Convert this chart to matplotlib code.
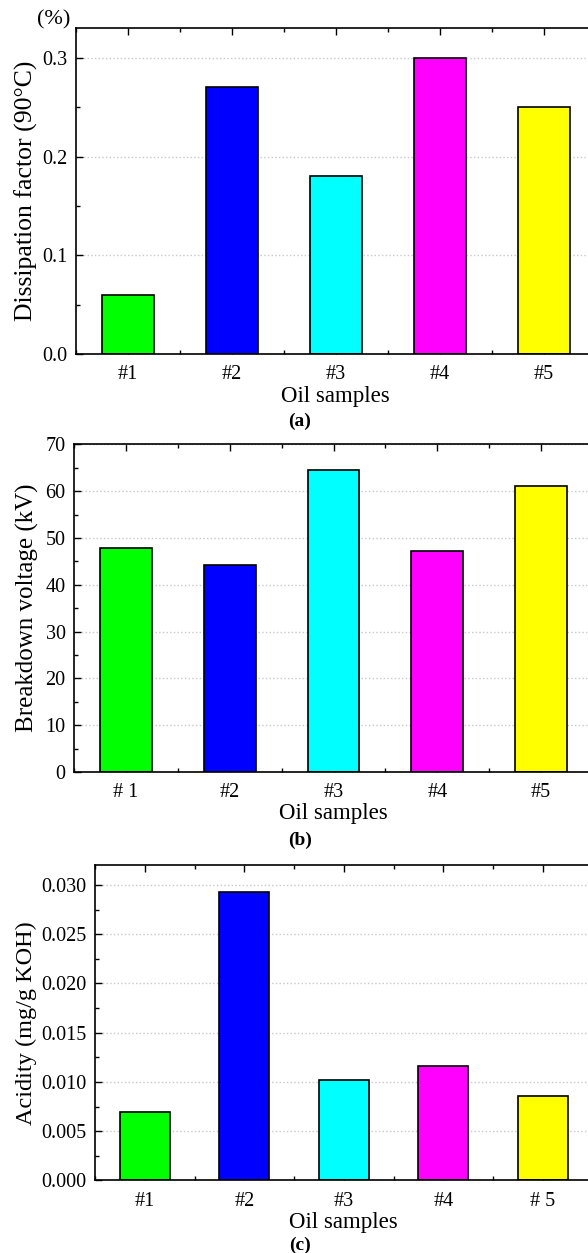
import matplotlib.pyplot as plt
from matplotlib.ticker import MultipleLocator, AutoMinorLocator

plt.rcParams['font.family'] = ['Liberation Serif', 'DejaVu Serif']

samples = [1, 2, 3, 4, 5]
colors = ['#00ff00', '#0000ff', '#00ffff', '#ff00ff', '#ffff00']

labels_a = ['#1', '#2', '#3', '#4', '#5']
labels_b = ['# 1', '#2', '#3', '#4', '#5']
labels_c = ['#1', '#2', '#3', '#4', '# 5']

dissipation = [0.06, 0.27, 0.18, 0.30, 0.25]
breakdown = [47.9, 44.2, 64.6, 47.3, 61.2]
acidity = [0.0070, 0.0293, 0.0102, 0.0116, 0.0086]


def style_axis(ax, ticklabels, ylim, major, fmt):
    ax.set_xlim(0.5, 5.5)
    ax.set_ylim(*ylim)
    ax.set_xticks(samples)
    ax.set_xticklabels(ticklabels)
    ax.xaxis.set_minor_locator(MultipleLocator(0.5))
    ax.yaxis.set_major_locator(MultipleLocator(major))
    ax.yaxis.set_minor_locator(AutoMinorLocator(2))
    ax.yaxis.set_major_formatter(fmt)
    ax.tick_params(which='both', direction='in', top=True, right=False,
                   labelsize=14.5, width=1)
    ax.tick_params(which='major', length=5)
    ax.tick_params(which='minor', length=3)
    ax.tick_params(axis='x', which='major', pad=8)
    ax.tick_params(axis='y', which='major', pad=6)
    ax.grid(axis='y', which='major', linestyle=':', color='#c8c8c8', lw=1)
    ax.set_axisbelow(True)
    for s in ax.spines.values():
        s.set_linewidth(1.2)
    ax.set_xlabel('Oil samples', fontsize=16.5, labelpad=1)


fig = plt.figure(figsize=(5.88, 12.53), dpi=100)

# (a)
ax1 = fig.add_axes([0.1293, 0.7172, 0.8835, 0.2605])
ax1.bar(samples, dissipation, width=0.5, color=colors, edgecolor='black', lw=1.2)
style_axis(ax1, labels_a, (0, 0.33), 0.1, '{x:.1f}')
ax1.set_ylabel('Dissipation factor (90\u00b0C)', fontsize=18.5, labelpad=3)
fig.text(54 / 588, 1 - 20 / 1253, '(%)', fontsize=16, ha='center', va='center')
fig.text(300 / 588, 1 - 421 / 1253, '(a)', fontsize=14, fontweight='bold',
         ha='center', va='center')

# (b)
ax2 = fig.add_axes([0.1259, 0.3839, 0.8826, 0.2615])
ax2.bar(samples, breakdown, width=0.5, color=colors, edgecolor='black', lw=1.2)
style_axis(ax2, labels_b, (0, 70), 10, '{x:.0f}')
ax2.set_ylabel('Breakdown voltage (kV)', fontsize=18, labelpad=5)
fig.text(300 / 588, 1 - 840 / 1253, '(b)', fontsize=14, fontweight='bold',
         ha='center', va='center')

# (c)
ax3 = fig.add_axes([0.1616, 0.0579, 0.8462, 0.2515])
ax3.bar(samples, acidity, width=0.5, color=colors, edgecolor='black', lw=1.2)
style_axis(ax3, labels_c, (0, 0.032), 0.005, '{x:.3f}')
ax3.set_ylabel('Acidity (mg/g KOH)', fontsize=17.5, labelpad=3)
fig.text(300 / 588, 1 - 1245 / 1253, '(c)', fontsize=14, fontweight='bold',
         ha='center', va='center')

fig.savefig('out.png', dpi=100)
